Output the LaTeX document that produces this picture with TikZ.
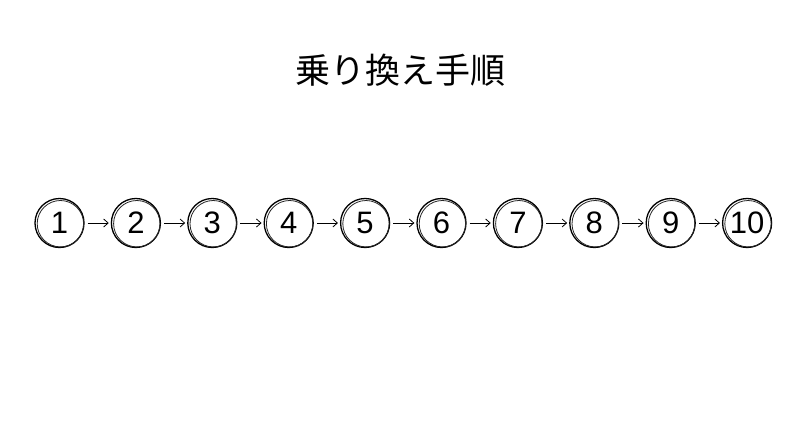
\documentclass[tikz,border=0pt]{standalone}
\usepackage{fontspec}
\newfontfamily\cjk{Noto Sans CJK JP}
\newfontfamily\numfont{Liberation Sans}
\usetikzlibrary{arrows.meta}
\begin{document}
\begin{tikzpicture}[x=1pt,y=-1pt,
  stepcirc/.style={circle,draw=black,line width=1.3pt,minimum size=49pt,inner sep=0pt,
    font=\numfont\fontsize{31}{31}\selectfont},
  sketch/.style={draw=black!85,line width=0.8pt},
  conn/.style={-{Straight Barb[length=4.5pt,width=8pt]},line width=0.8pt,shorten <=3pt,shorten >=2pt}]
\useasboundingbox (0,0) rectangle (800,447);
\fill[white] (0,0) rectangle (800,447);
\node[font=\cjk\fontsize{35}{35}\selectfont] (title) at (400,70) {乗り換え手順};
\foreach \i in {1,...,10} {
  \node[stepcirc] (c\i) at ({59.5+(\i-1)*76.4},223) {\i};
  \draw[sketch] ([shift={(0.9pt,-0.7pt)}]c\i.center) circle[radius=23.2pt];
}
\foreach \i [evaluate=\i as \j using int(\i+1)] in {1,...,9} {
  \draw[conn] (c\i) -- (c\j);
}
\end{tikzpicture}
\end{document}
